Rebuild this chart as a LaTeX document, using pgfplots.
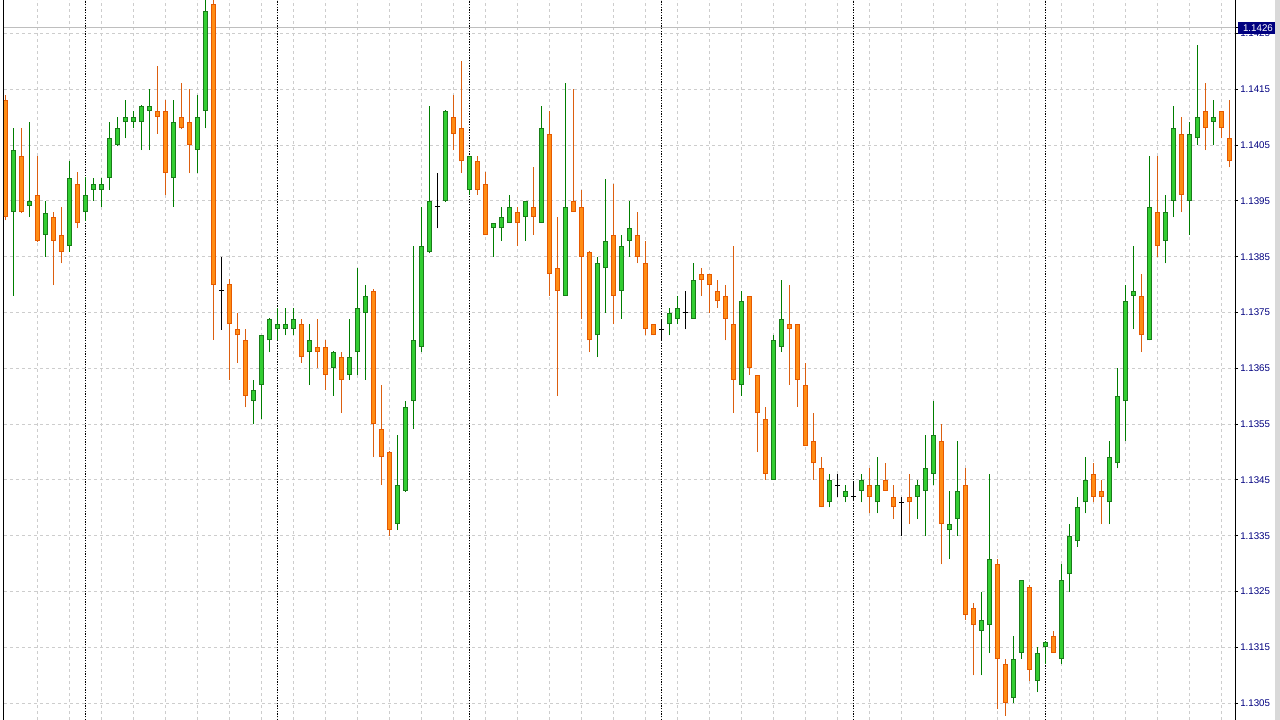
\documentclass[border=0pt]{standalone}
\usepackage{fontspec}
\setmainfont{Liberation Sans}
\usepackage{pgfplots}
\pgfplotsset{compat=1.18}
\usepackage{pgfplotstable}

\definecolor{upfill}{RGB}{50,205,50}
\definecolor{upline}{RGB}{25,125,25}
\definecolor{upwick}{RGB}{0,125,0}
\definecolor{dnfill}{RGB}{255,140,20}
\definecolor{dnline}{RGB}{230,90,0}
\definecolor{dnwick}{RGB}{220,95,15}
\definecolor{gridgray}{RGB}{205,205,205}
\definecolor{bidgray}{RGB}{190,190,190}
\definecolor{mtnavy}{RGB}{0,0,128}

% EURUSD H1 bars, k = bar index, prices o h l c
\pgfplotstableread{
k o h l c
1 1.13930 1.14080 1.13780 1.14042
3 1.13941 1.14091 1.13921 1.13950
5 1.13889 1.13950 1.13850 1.13929
8 1.13869 1.14021 1.13859 1.13991
10 1.13930 1.13993 1.13914 1.13961
11 1.13970 1.13991 1.13950 1.13980
12 1.13970 1.13991 1.13940 1.13980
13 1.13991 1.14091 1.13970 1.14062
14 1.14050 1.14101 1.14048 1.14080
15 1.14091 1.14131 1.14062 1.14101
16 1.14091 1.14111 1.14080 1.14101
17 1.14091 1.14122 1.14041 1.14120
18 1.14111 1.14150 1.14041 1.14120
21 1.13991 1.14131 1.13940 1.14091
24 1.14041 1.14140 1.14000 1.14101
25 1.14111 1.14310 1.14080 1.14290
31 1.13591 1.13630 1.13550 1.13611
32 1.13620 1.13710 1.13560 1.13709
33 1.13700 1.13740 1.13679 1.13738
34 1.13720 1.13759 1.13700 1.13729
35 1.13720 1.13759 1.13709 1.13729
36 1.13720 1.13759 1.13709 1.13738
38 1.13679 1.13729 1.13620 1.13700
41 1.13650 1.13681 1.13601 1.13679
43 1.13639 1.13739 1.13630 1.13670
44 1.13679 1.13829 1.13639 1.13759
45 1.13750 1.13799 1.13630 1.13780
49 1.13371 1.13531 1.13360 1.13441
50 1.13431 1.13592 1.13429 1.13581
51 1.13591 1.13869 1.13541 1.13701
52 1.13689 1.13940 1.13679 1.13869
53 1.13858 1.14120 1.13856 1.13950
55 1.13950 1.14113 1.13948 1.14111
58 1.13970 1.14031 1.13961 1.14031
61 1.13901 1.13910 1.13850 1.13910
62 1.13901 1.13940 1.13879 1.13921
63 1.13910 1.13961 1.13910 1.13940
65 1.13921 1.13950 1.13879 1.13950
67 1.13910 1.14120 1.13910 1.14080
70 1.13780 1.14161 1.13780 1.13940
74 1.13709 1.13850 1.13670 1.13838
75 1.13829 1.13990 1.13750 1.13879
77 1.13789 1.13889 1.13739 1.13869
78 1.13879 1.13950 1.13850 1.13901
83 1.13729 1.13759 1.13709 1.13750
84 1.13739 1.13780 1.13729 1.13759
86 1.13739 1.13838 1.13739 1.13809
92 1.13620 1.13789 1.13601 1.13770
96 1.13450 1.13709 1.13450 1.13700
97 1.13689 1.13809 1.13679 1.13739
103 1.13410 1.13461 1.13401 1.13450
105 1.13420 1.13441 1.13410 1.13431
107 1.13431 1.13461 1.13410 1.13450
109 1.13410 1.13491 1.13390 1.13441
114 1.13420 1.13450 1.13380 1.13441
115 1.13431 1.13531 1.13350 1.13471
116 1.13461 1.13592 1.13441 1.13531
118 1.13360 1.13431 1.13309 1.13371
119 1.13380 1.13520 1.13350 1.13431
122 1.13180 1.13250 1.13100 1.13200
123 1.13190 1.13461 1.13140 1.13309
126 1.13060 1.13170 1.13050 1.13129
127 1.13140 1.13270 1.13129 1.13270
129 1.13090 1.13150 1.13070 1.13140
130 1.13150 1.13161 1.13120 1.13160
132 1.13129 1.13299 1.13120 1.13270
133 1.13281 1.13371 1.13250 1.13350
134 1.13340 1.13420 1.13330 1.13401
135 1.13410 1.13491 1.13390 1.13450
138 1.13410 1.13520 1.13371 1.13491
139 1.13480 1.13650 1.13471 1.13601
140 1.13591 1.13799 1.13520 1.13770
141 1.13780 1.13869 1.13720 1.13789
143 1.13700 1.14031 1.13700 1.13940
145 1.13879 1.13961 1.13838 1.13930
146 1.13950 1.14120 1.13921 1.14080
148 1.13950 1.14091 1.13889 1.14070
149 1.14062 1.14230 1.14050 1.14101
151 1.14091 1.14131 1.14050 1.14101
}\upbars

\pgfplotstableread{
k o h l c
0 1.14131 1.14140 1.13915 1.13922
2 1.14031 1.14080 1.13928 1.13930
4 1.13961 1.14031 1.13876 1.13879
6 1.13921 1.13930 1.13799 1.13879
7 1.13889 1.13940 1.13838 1.13859
9 1.13980 1.14001 1.13901 1.13910
19 1.14111 1.14191 1.14070 1.14101
20 1.14111 1.14131 1.13961 1.14000
22 1.14101 1.14161 1.14078 1.14080
23 1.14091 1.14150 1.14000 1.14050
26 1.14303 1.14310 1.13701 1.13799
28 1.13801 1.13810 1.13629 1.13729
29 1.13720 1.13750 1.13660 1.13709
30 1.13700 1.13720 1.13580 1.13601
37 1.13729 1.13738 1.13660 1.13670
39 1.13688 1.13738 1.13650 1.13679
40 1.13688 1.13700 1.13611 1.13639
42 1.13670 1.13679 1.13570 1.13630
46 1.13789 1.13792 1.13491 1.13550
47 1.13541 1.13621 1.13441 1.13491
48 1.13500 1.13502 1.13350 1.13360
56 1.14101 1.14140 1.14041 1.14070
57 1.14080 1.14201 1.14000 1.14021
59 1.14021 1.14031 1.13961 1.13970
60 1.13980 1.14001 1.13889 1.13889
64 1.13930 1.13940 1.13869 1.13910
66 1.13940 1.14010 1.13889 1.13921
68 1.14070 1.14111 1.13780 1.13819
69 1.13829 1.13921 1.13601 1.13789
71 1.13950 1.14150 1.13930 1.13930
72 1.13940 1.13970 1.13739 1.13850
73 1.13858 1.13860 1.13679 1.13700
76 1.13889 1.13980 1.13729 1.13780
79 1.13889 1.13930 1.13838 1.13850
80 1.13838 1.13879 1.13709 1.13720
81 1.13729 1.13729 1.13709 1.13709
87 1.13819 1.13829 1.13780 1.13809
88 1.13819 1.13819 1.13750 1.13799
89 1.13789 1.13809 1.13759 1.13770
90 1.13780 1.13799 1.13700 1.13739
91 1.13729 1.13869 1.13570 1.13630
93 1.13780 1.13780 1.13639 1.13650
94 1.13639 1.13639 1.13500 1.13570
95 1.13560 1.13581 1.13450 1.13461
98 1.13729 1.13799 1.13621 1.13720
99 1.13729 1.13729 1.13581 1.13630
100 1.13621 1.13660 1.13511 1.13511
101 1.13520 1.13570 1.13450 1.13480
102 1.13471 1.13491 1.13401 1.13401
108 1.13441 1.13471 1.13390 1.13420
110 1.13450 1.13480 1.13431 1.13431
111 1.13420 1.13441 1.13380 1.13401
113 1.13420 1.13461 1.13371 1.13410
117 1.13520 1.13550 1.13299 1.13371
120 1.13441 1.13471 1.13200 1.13209
121 1.13220 1.13230 1.13100 1.13190
124 1.13299 1.13309 1.13039 1.13129
125 1.13120 1.13129 1.13028 1.13050
128 1.13259 1.13262 1.13090 1.13110
131 1.13170 1.13180 1.13140 1.13140
136 1.13461 1.13480 1.13410 1.13420
137 1.13431 1.13450 1.13371 1.13420
142 1.13780 1.13819 1.13679 1.13709
144 1.13930 1.14031 1.13850 1.13869
147 1.14070 1.14101 1.13930 1.13961
150 1.14111 1.14161 1.14041 1.14080
152 1.14111 1.14111 1.14062 1.14080
153 1.14062 1.14131 1.14010 1.14021
}\dnbars

\pgfplotstableread{
k o h l c
27 1.13789 1.13850 1.13719 1.13789
54 1.13940 1.14000 1.13901 1.13940
82 1.13720 1.13739 1.13700 1.13720
85 1.13750 1.13789 1.13720 1.13750
104 1.13441 1.13461 1.13420 1.13441
106 1.13420 1.13445 1.13415 1.13420
112 1.13410 1.13420 1.13350 1.13410
}\dojibars

\pgfplotsset{
  candlewick/.style={draw=#1, line width=0.9pt, mark=none, forget plot,
    quiver={u=0, v=\thisrow{h}-\thisrow{l}}},
  candlebar/.style n args={2}{draw=none, mark=none, forget plot,
    error bars/.cd, y dir=plus, y explicit, error mark=none,
    error bar style={draw=#1, solid, line width=#2}},
  candlebody/.style={candlebar={#1}{3.75pt}},
  candlefill/.style={candlebar={#1}{2.25pt}},
}

\begin{document}
\begin{tikzpicture}
\begin{axis}[
  name=main,
  at={(0,0)}, anchor=south west,
  scale only axis, width=923.25pt, height=540pt,
  xmin=-0.1875, xmax=153.6875, ymin=1.13020, ymax=1.14310,
  separate axis lines,
  x axis line style={draw=none},
  y axis line style={draw=black, line width=0.75pt},
  xtick={4,8,...,152}, xticklabels={}, xtick style={draw=none},
  ytick={1.1305,1.1315,1.1325,1.1335,1.1345,1.1355,1.1365,1.1375,1.1385,1.1395,1.1405,1.1415,1.1425},
  ytick pos=right, yticklabel pos=right,
  tick align=outside, major tick length=2.25pt,
  ytick style={draw=black, line width=0.75pt},
  grid=major,
  major grid style={draw=gridgray, line width=0.75pt, dash pattern=on 2.25pt off 2.25pt},
  /pgf/number format/fixed,
  /pgf/number format/fixed zerofill,
  /pgf/number format/precision=4,
  /pgf/number format/assume math mode=true,
  yticklabel style={font=\fontsize{7.3pt}{8pt}\selectfont, text=mtnavy, inner xsep=1.5pt},
  extra x ticks={10,34,58,82,106,130}, extra x tick labels={},
  extra x tick style={grid=major,
    major grid style={draw=black, line width=0.75pt, dash pattern=on 1.1pt off 0.9pt}},
  extra y ticks={1.1426},
  extra y tick style={grid=major,
    major grid style={draw=bidgray, solid, line width=0.75pt},
    yticklabel style={fill=mtnavy, text=white, inner xsep=3.6pt, inner ysep=2pt}},
]
\addplot[candlewick=upwick] table[x=k, y=l] {\upbars};
\addplot[candlewick=dnwick] table[x=k, y=l] {\dnbars};
\addplot[candlewick=black] table[x=k, y=l] {\dojibars};

\addplot[candlebody=upline] table[x=k, y=o, y error expr=\thisrow{c}-\thisrow{o}] {\upbars};
\addplot[candlefill=upfill] table[x=k, y expr=\thisrow{o}+0.000018, y error expr=\thisrow{c}-\thisrow{o}-0.000036] {\upbars};

\addplot[candlebody=dnline] table[x=k, y=c, y error expr=\thisrow{o}-\thisrow{c}] {\dnbars};
\addplot[candlefill=dnfill] table[x=k, y expr=\thisrow{c}+0.000018, y error expr=\thisrow{o}-\thisrow{c}-0.000036] {\dnbars};

\addplot[only marks, mark=-, mark size=1.875pt, black, mark options={line width=0.75pt}, forget plot]
  table[x=k, y=o] {\dojibars};
\end{axis}
\pgfresetboundingbox
\path[use as bounding box] ([xshift=-3pt]main.south west) rectangle ([xshift=33.75pt]main.north east);
\fill[gray!30] ([xshift=30pt]main.south east) rectangle ([xshift=33.75pt]main.north east);
\end{tikzpicture}
\end{document}
